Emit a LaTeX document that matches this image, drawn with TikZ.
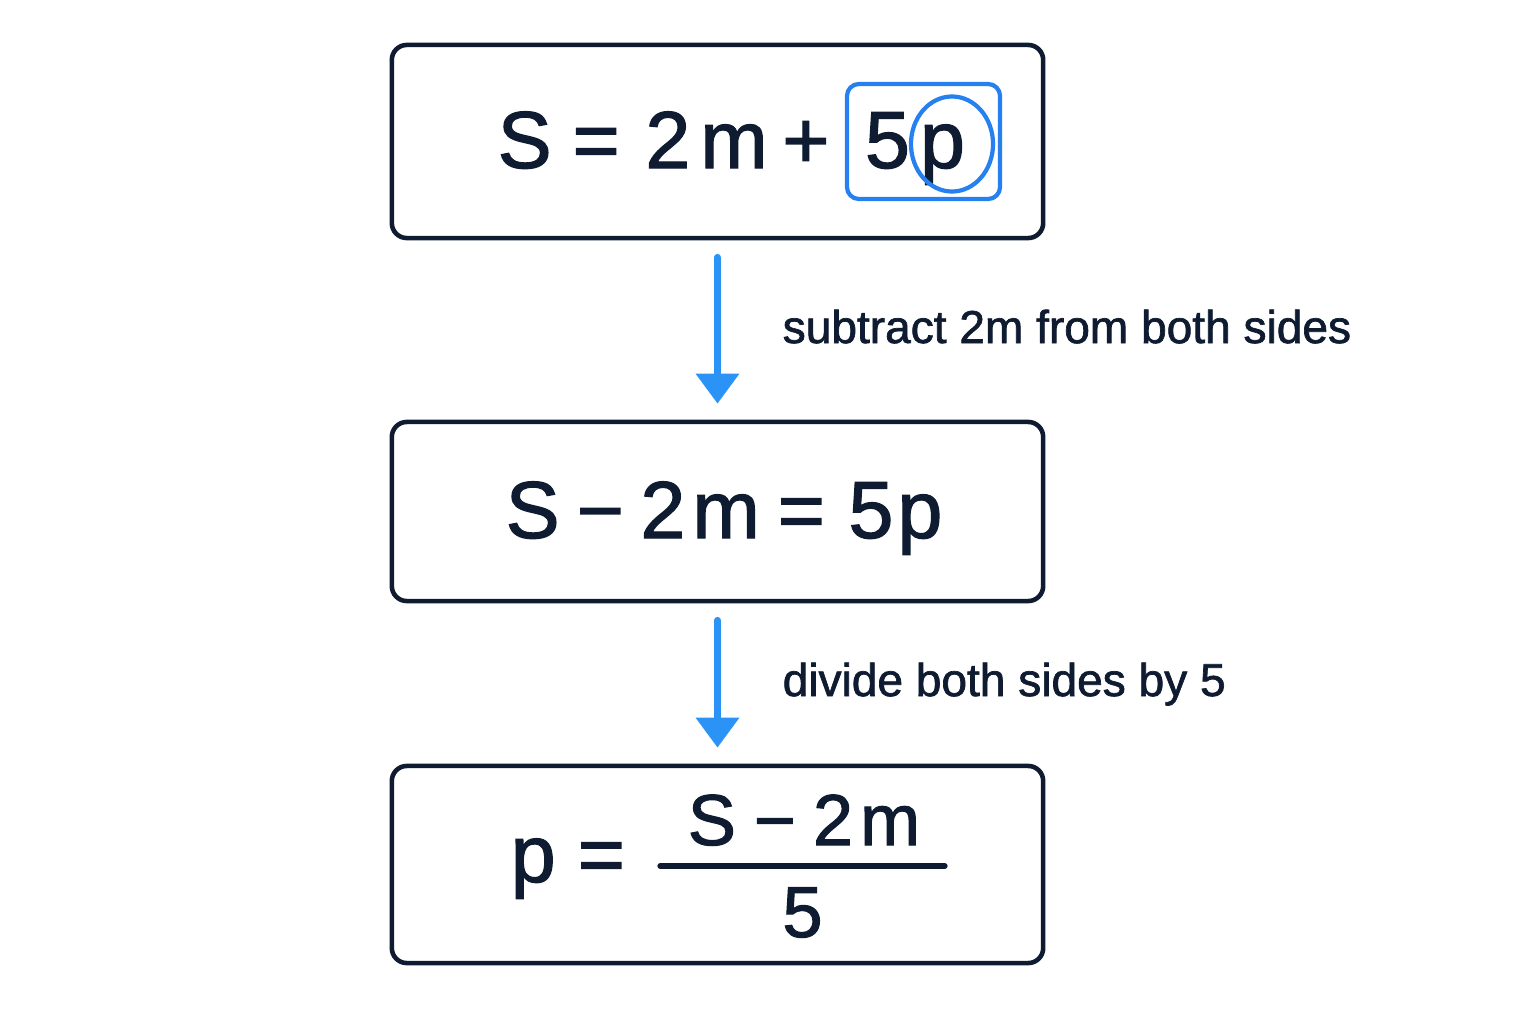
\documentclass[tikz,border=0pt]{standalone}
\usepackage{fontspec}
\setmainfont{Liberation Sans}
\newfontfamily\medfamily{Liberation Sans}[RawFeature={embolden=1.5}]
\usetikzlibrary{positioning,arrows.meta,shapes.geometric}
\definecolor{ink}{HTML}{0E1B30}
\definecolor{stepblue}{HTML}{2B93F5}
\definecolor{markblue}{HTML}{2780F0}
\newcommand{\eqfont}{\medfamily\fontsize{23}{28}\selectfont}
\newcommand{\fracfont}{\medfamily\fontsize{20.5}{25}\selectfont}
\newcommand{\notefont}{\medfamily\fontsize{13.1}{16}\selectfont}
\tikzset{
	eqbox/.style={draw=ink, line width=1.3pt, rounded corners=0.15cm, minimum width=6.51cm, inner sep=0pt},
	eqtext/.style={anchor=base west, inner sep=0pt, text=ink},
	steparrow/.style={-{Triangle[length=0.3cm,width=0.42cm]}, draw=stepblue, line width=2pt, line cap=round, shorten <=0.17cm, shorten >=0.16cm},
	marker/.style={draw=markblue, line width=1.2pt, inner sep=0pt}
}
\begin{document}
\begin{tikzpicture}[x=0.01cm, y=-0.01cm]
		\useasboundingbox (0,0) rectangle (1536,1024);
		\node (boxone) [eqbox, minimum height=1.93cm] at (717.5,141.5) {};
		\node (boxtwo) [eqbox, minimum height=1.79cm] at (717.5,511.5) {};
		\node (boxthree) [eqbox, minimum height=1.97cm] at (717.5,864.5) {};
		\node (eqone) [eqtext] at (497,168) {\eqfont S\hspace{0.21cm}=\hspace{0.255cm}2\hspace{0.1cm}m\hspace{0.145cm}+\hspace{0.355cm}5\hspace{0.1cm}p};
		\node (fivep) [marker, rounded corners=0.12cm, minimum width=1.53cm, minimum height=1.15cm] at (923.5,141.5) {};
		\node (pmark) [marker, ellipse, minimum width=0.82cm, minimum height=0.95cm] at (952,144) {};
		\node (eqtwo) [eqtext] at (505,538) {\eqfont S\hspace{0.17cm}−\hspace{0.165cm}2\hspace{0.07cm}m\hspace{0.18cm}=\hspace{0.235cm}5\hspace{0.04cm}p};
		\node (pside) [eqtext] at (510,882) {\eqfont p\hspace{0.22cm}=};
		\node (numer) [eqtext, anchor=base] at (804,845) {\fracfont S\hspace{0.18cm}−\hspace{0.17cm}2\hspace{0.07cm}m};
		\node (denom) [eqtext, anchor=base] at (802.5,937) {\fracfont 5};
		\draw[ink, line width=1.5pt, line cap=round] (660,866) -- (945,866);
		\node (subnote) [eqtext] at (782,343) {\notefont subtract 2m from both sides};
		\node (divnote) [eqtext] at (782,696) {\notefont divide both sides by 5};
		\draw[steparrow] (boxone.south) -- (boxtwo.north);
		\draw[steparrow] (boxtwo.south) -- (boxthree.north);
	\end{tikzpicture}
\end{document}
